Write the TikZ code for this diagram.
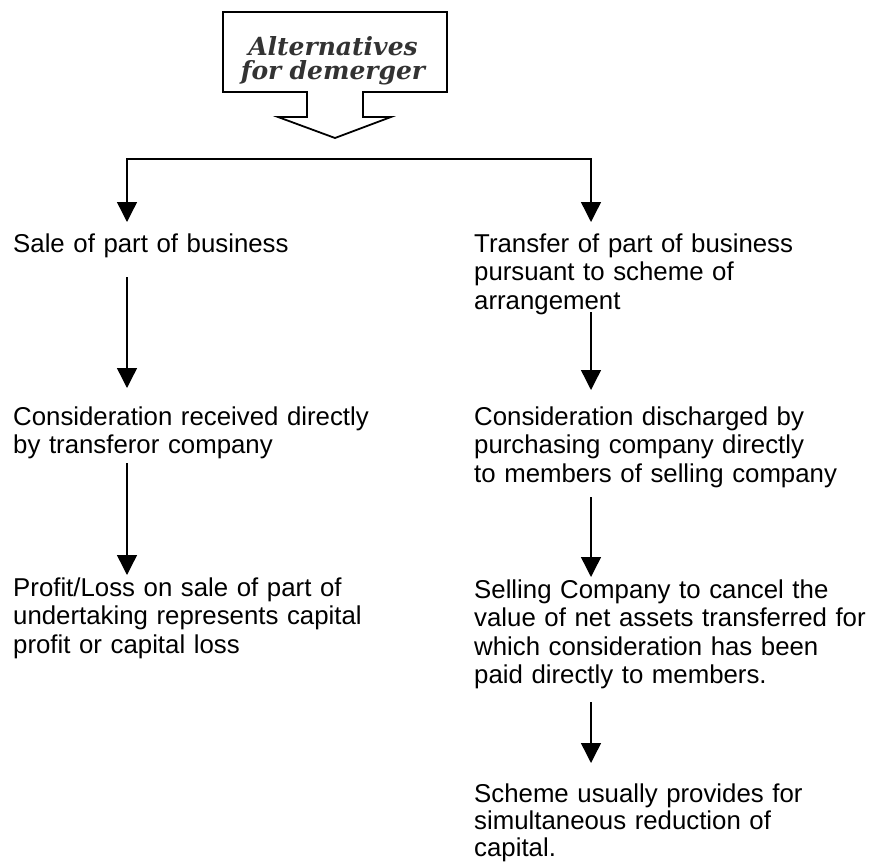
\documentclass[tikz,border=0pt]{standalone}
\usepackage{fontspec}
\setmainfont{Liberation Sans}
\newfontfamily\calloutfont{DejaVu Serif}
\usetikzlibrary{arrows.meta,calc}
\tikzset{
  txt/.style={anchor=base west, inner sep=0pt, text width=400pt, align=left,
              font=\fontsize{25.8}{28.5}\selectfont},
  arr/.style={line width=1.4pt, -{Triangle[width=20pt,length=20pt]}},
  arrboth/.style={line width=1.4pt, line join=miter,
              {Triangle[width=20pt,length=20pt]}-{Triangle[width=20pt,length=20pt]}},
  callout/.style={line width=1.8pt, line join=miter, fill=white, draw=black},
  calltxt/.style={anchor=base, inner sep=0pt, text width=224pt, align=center,
              text=black!80, font=\calloutfont\bfseries\itshape\fontsize{25}{24}\selectfont}
}
\begin{document}
\begin{tikzpicture}[x=1pt,y=-1pt]
\useasboundingbox (0,0) rectangle (870,862);
% callout
\draw[callout] (223,12) -- (447,12) -- (447,92) -- (363,92) -- (363,117) -- (391,117)
  -- (335,138) -- (278,117) -- (307,117) -- (307,92) -- (223,92) -- cycle;
\node[calltxt] (alt) at (333,55) {Alternatives\\for demerger};
% columns
\coordinate (colL) at (127,0);
\coordinate (colR) at (591,0);
\coordinate (bar) at (335,159);
% text nodes
\node[txt] (sale) at (13,252) {Sale of part of business};
\node[txt] (transfer) at (474,252) {Transfer of part of business\\pursuant to scheme of\\arrangement};
\node[txt] (consL) at (13,425) {Consideration received directly\\by transferor company};
\node[txt] (consR) at (474,425) {Consideration discharged by\\purchasing company directly\\to members of selling company};
\node[txt] (profit) at (13,596) {Profit/Loss on sale of part of\\undertaking represents capital\\profit or capital loss};
\node[txt] (selling) at (474,598) {Selling Company to cancel the\\value of net assets transferred for\\which consideration has been\\paid directly to members.};
\node[txt, font=\fontsize{25.8}{27}\selectfont] (scheme) at (474,802) {Scheme usually provides for\\simultaneous reduction of\\capital.};
% connectors
\draw[arrboth] ($(sale.base -| colL)+(0,-30)$) |- (bar -| colR) -- ($(transfer.base -| colR)+(0,-30)$);
\draw[arr] ($(sale.base -| colL)+(0,25)$) -- ($(consL.base -| colL)+(0,-37)$);
\draw[arr] ($(consL.base -| colL)+(0,38)$) -- ($(profit.base -| colL)+(0,-21)$);
\draw[arr] ($(transfer.base -| colR)+(0,60)$) -- ($(consR.base -| colR)+(0,-35)$);
\draw[arr] ($(consR.base -| colR)+(0,72)$) -- ($(selling.base -| colR)+(0,-21)$);
\draw[arr] ($(selling.base -| colR)+(0,104)$) -- ($(scheme.base -| colR)+(0,-39)$);
\end{tikzpicture}
\end{document}
